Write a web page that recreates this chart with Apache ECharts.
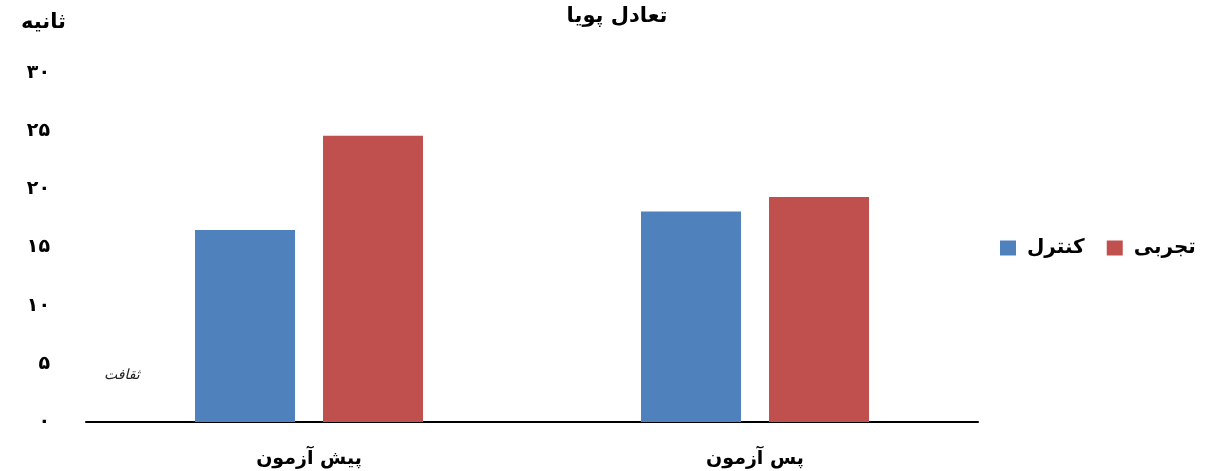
<!DOCTYPE html>
<html>
<head>
<meta charset="utf-8">
<script src="https://cdn.jsdelivr.net/npm/echarts@6/dist/echarts.min.js"></script>
<style>
html, body { margin: 0; padding: 0; background: #fff; }
#container { width: 1223px; height: 471px; }
</style>
</head>
<body>
<div id="container"></div>
<script>
var categories = ['پیش آزمون', 'پس آزمون'];
var controlValues = [16.5, 18.1];
var experimentValues = [24.6, 19.35];
var seriesNames = ['کنترل', 'تجربی'];
var yTicks = [0, 5, 10, 15, 20, 25, 30];

var faDigits = '۰۱۲۳۴۵۶۷۸۹';
function toFa(n) {
	return String(n).replace(/[0-9]/g, function (d) { return faDigits[+d]; });
}

var dom = document.getElementById('container');
var myChart = echarts.init(dom, null, { renderer: 'canvas' });
var font = 'DejaVu Sans';

var option = {
	animation: false,
	title: {
		text: 'تعادل پویا',
		left: 612,
		textAlign: 'center',
		top: 1,
		textStyle: { fontFamily: font, fontSize: 21, fontWeight: 'bold', color: '#000' }
	},
	legend: {
		data: seriesNames,
		left: 995,
		top: 233,
		icon: 'rect',
		itemWidth: 16,
		itemHeight: 15,
		itemGap: 22,
		textStyle: { fontFamily: font, fontSize: 20, fontWeight: 'bold', color: '#000', padding: [0, 0, 0, 6] }
	},
	grid: { left: 86, right: 245, top: 73, bottom: 49 },
	xAxis: {
		type: 'category',
		data: categories,
		axisLine: { lineStyle: { color: '#000', width: 2 } },
		axisTick: { show: false },
		axisLabel: { margin: 28, fontFamily: font, fontSize: 19, fontWeight: 'bold', color: '#000' }
	},
	yAxis: {
		type: 'value',
		min: yTicks[0],
		max: yTicks[yTicks.length - 1],
		interval: 5,
		name: 'ثانیه',
		nameLocation: 'end',
		nameGap: 40,
		nameTextStyle: { fontFamily: font, fontSize: 21, fontWeight: 'bold', color: '#000', align: 'right', padding: [0, 20, 0, 0] },
		axisLine: { show: false },
		axisTick: { show: false },
		splitLine: { show: false },
		axisLabel: {
			margin: 36,
			fontFamily: font, fontSize: 19, fontWeight: 'bold', color: '#000',
			formatter: function (v) { return toFa(v); }
		}
	},
	series: [{
		name: seriesNames[0],
		type: 'bar',
		data: controlValues,
		barWidth: 100,
		barGap: '28%',
		itemStyle: { color: '#4F81BD' }
	}, {
		name: seriesNames[1],
		type: 'bar',
		data: experimentValues,
		barWidth: 100,
		itemStyle: { color: '#C0504D' }
	}],
	graphic: [{
		type: 'text',
		left: 104,
		top: 368,
		style: { text: 'ثقافت', font: 'italic 14px DejaVu Sans', fill: '#222' }
	}]
};

myChart.setOption(option);
window.addEventListener('resize', myChart.resize);
</script>
</body>
</html>
